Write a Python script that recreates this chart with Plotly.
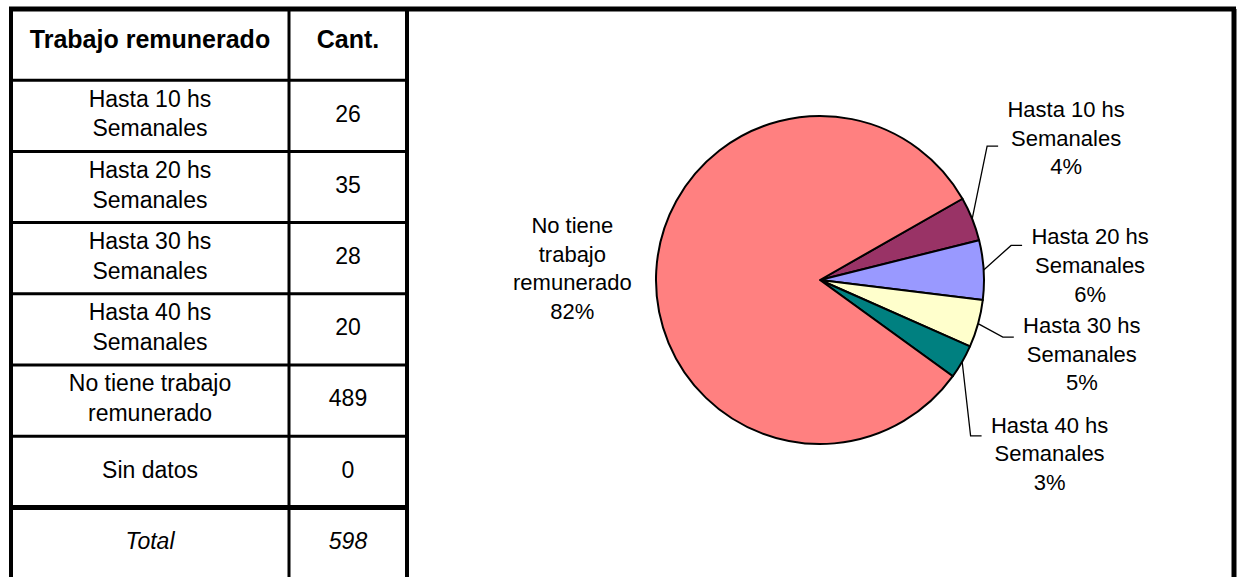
import math
import plotly.graph_objects as go

# ---- data ----
table_header = ["Trabajo remunerado", "Cant."]
row_labels = ["Hasta 10 hs<br>Semanales", "Hasta 20 hs<br>Semanales", "Hasta 30 hs<br>Semanales",
              "Hasta 40 hs<br>Semanales", "No tiene trabajo<br>remunerado", "Sin datos"]
pie_labels = ["Hasta 10 hs<br>Semanales", "Hasta 20 hs<br>Semanales", "Hasta 30 hs<br>Semanales",
              "Hasta 40 hs<br>Semanales", "No tiene<br>trabajo<br>remunerado", "Sin datos"]
counts = [26, 35, 28, 20, 489, 0]
slice_colors = ["#993366", "#9999FF", "#FFFFCC", "#008080", "#FF8080", "#FFFFFF"]
total_label = "Total"

# ---- layout constants (pixels) ----
W, H = 1238, 577
FONT = "Arial, 'Liberation Sans', sans-serif"
COL_X = [11, 289, 407]          # table left, column split, table right
FRAME_RIGHT = 1234
TOP = 9
ROW_H = 71.2
CX, CY, R = 820, 280, 164       # pie centre / radius
ROTATION = 60.3

total = sum(counts)

fig = go.Figure()

# ---- table text ----
n_rows = len(row_labels) + 2
col_centers = [(COL_X[0] + COL_X[1]) / 2, (COL_X[1] + COL_X[2]) / 2]
row_centers = [TOP + (i + 0.5) * ROW_H for i in range(n_rows)]

cells_x, cells_y, cells_t, cells_s = [], [], [], []
body = [[f"<b>{table_header[0]}</b>", f"<b>{table_header[1]}</b>"]]
body += [[lab, str(v)] for lab, v in zip(row_labels, counts)]
body += [[f"<i>{total_label}</i>", f"<i>{total}</i>"]]
for r, row in enumerate(body):
    for c, txt in enumerate(row):
        cells_x.append(col_centers[c])
        cells_y.append(row_centers[r] - (3 if r == 0 else 0))
        cells_t.append(txt)
        cells_s.append(25 if r == 0 else 23)

fig.add_trace(go.Scatter(
    x=cells_x, y=cells_y, text=cells_t, mode="text",
    textposition="middle center",
    textfont=dict(family=FONT, size=cells_s, color="black"),
    hoverinfo="skip", showlegend=False, cliponaxis=False,
))

# ---- pie ----
pie_idx = [i for i, v in enumerate(counts) if v > 0]
fig.add_trace(go.Pie(
    labels=[pie_labels[i].replace("<br>", " ") for i in pie_idx],
    values=[counts[i] for i in pie_idx],
    marker=dict(colors=[slice_colors[i] for i in pie_idx], line=dict(color="black", width=2)),
    sort=False, direction="clockwise", rotation=ROTATION,
    textinfo="none", hoverinfo="label+value+percent", showlegend=False,
    domain=dict(x=[(CX - R) / W, (CX + R) / W], y=[1 - (CY + R) / H, 1 - (CY - R) / H]),
))

# ---- pie labels and leader lines ----
label_r = [1.65, 1.65, 1.65, 1.65, 1.5]
label_dx = [-5, 0, 1, -5, -2]
label_dy = [-39, 4, 4, 41, 4]
elbow_dy = [6, -22, -19, -20, None]
HALF_W = 65

lab_x, lab_y, lab_t = [], [], []
lx, ly = [], []
cum = 0
for k, i in enumerate(pie_idx):
    v = counts[i]
    theta = math.radians(ROTATION + 360 * (cum + v / 2) / total)
    cum += v
    sx, sy = math.sin(theta), -math.cos(theta)
    tx = CX + label_r[k] * R * sx + label_dx[k]
    ty = CY + label_r[k] * R * sy + label_dy[k]
    pct = round(100 * v / total)
    lab_x.append(tx)
    lab_y.append(ty)
    lab_t.append(f"{pie_labels[i]}<br>{pct}%")
    if elbow_dy[k] is not None:
        ex, ey = CX + R * sx, CY + R * sy
        end_x = tx - HALF_W - 3
        lx += [ex, end_x - 11, end_x, None]
        ly += [ey, ty + elbow_dy[k], ty + elbow_dy[k], None]

fig.add_trace(go.Scatter(
    x=lx, y=ly, mode="lines", line=dict(color="black", width=1.3),
    hoverinfo="skip", showlegend=False, cliponaxis=False,
))
fig.add_trace(go.Scatter(
    x=lab_x, y=lab_y, text=lab_t, mode="text", textposition="middle center",
    textfont=dict(family=FONT, size=22, color="black"),
    hoverinfo="skip", showlegend=False, cliponaxis=False,
))

# ---- grid lines / frame ----
shapes = []


def seg(x0, y0, x1, y1, w):
    shapes.append(dict(type="line", xref="x", yref="y", x0=x0, x1=x1, y0=y0, y1=y1,
                       line=dict(color="black", width=w)))


seg(COL_X[0] - 2, TOP, FRAME_RIGHT + 2, TOP, 5)
seg(COL_X[0], TOP, COL_X[0], H + 5, 4)
seg(COL_X[1], TOP, COL_X[1], H + 5, 3)
seg(COL_X[2], TOP, COL_X[2], H + 5, 4)
seg(FRAME_RIGHT, TOP, FRAME_RIGHT, H + 5, 5)
for i in range(1, n_rows):
    y = TOP + i * ROW_H
    seg(COL_X[0], y, COL_X[2], y, 5 if i == n_rows - 1 else 3)

fig.update_layout(
    width=W, height=H,
    margin=dict(l=0, r=0, t=0, b=0),
    paper_bgcolor="white", plot_bgcolor="white",
    xaxis=dict(range=[0, W], domain=[0, 1], visible=False, fixedrange=True),
    yaxis=dict(range=[H, 0], domain=[0, 1], visible=False, fixedrange=True),
    shapes=shapes,
    showlegend=False,
)

fig.write_html("out.html", config={"displayModeBar": False},
               post_script="document.body.style.margin='0';")
